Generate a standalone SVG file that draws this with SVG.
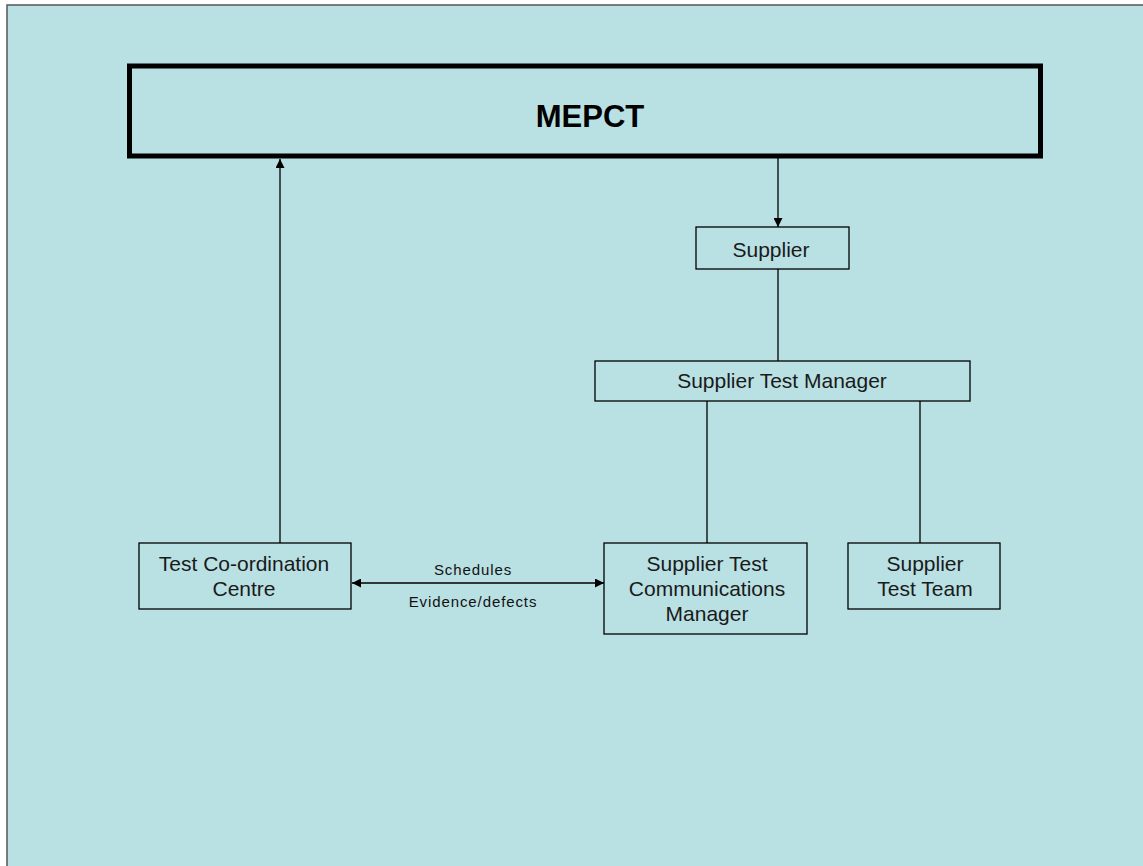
<svg xmlns="http://www.w3.org/2000/svg" width="1143" height="866" viewBox="0 0 1143 866">
<defs>
<style>
.box{fill:none;stroke:#000;stroke-width:1.3}
.t{font-family:"Liberation Sans",Arial,sans-serif;font-size:21px;fill:#1a1a1a;text-anchor:middle}
.s{font-family:"Liberation Sans",Arial,sans-serif;font-size:15px;letter-spacing:0.9px;fill:#111;text-anchor:middle}
.c{stroke:#000;stroke-width:1.3;fill:none}
</style>
<marker id="ah" viewBox="0 0 10 10" refX="10" refY="5" markerWidth="9" markerHeight="9" markerUnits="userSpaceOnUse" orient="auto-start-reverse"><path d="M0,0 L10,5 L0,10 z" fill="#000"/></marker>
</defs>
<rect x="0" y="0" width="1143" height="866" fill="#fff"/>
<rect x="7" y="5" width="1140" height="865" fill="#B9E0E3" stroke="#555" stroke-width="1.5"/>
<g id="connectors">
<line class="c" x1="280" y1="543" x2="280" y2="159" marker-end="url(#ah)"/>
<line class="c" x1="778" y1="158" x2="778" y2="227" marker-end="url(#ah)"/>
<line class="c" x1="778" y1="269" x2="778" y2="361"/>
<line class="c" x1="707" y1="401" x2="707" y2="543"/>
<line class="c" x1="920" y1="401" x2="920" y2="543"/>
<line class="c" x1="352" y1="583" x2="604" y2="583" marker-start="url(#ah)" marker-end="url(#ah)"/>
<text class="s" x="473" y="575">Schedules</text>
<text class="s" x="473" y="607">Evidence/defects</text>
</g>
<g id="mepct">
<rect x="129.5" y="66" width="911" height="90" fill="none" stroke="#000" stroke-width="5"/>
<text x="590" y="127" font-family="'Liberation Sans',Arial,sans-serif" font-size="31" font-weight="bold" text-anchor="middle" fill="#000">MEPCT</text>
</g>
<g id="supplier">
<rect class="box" x="696" y="227" width="153" height="42"/>
<text class="t" x="771" y="257">Supplier</text>
</g>
<g id="stm">
<rect class="box" x="595" y="361" width="375" height="40"/>
<text class="t" x="782" y="388">Supplier Test Manager</text>
</g>
<g id="tcc">
<rect class="box" x="139" y="543" width="212" height="66"/>
<text class="t" x="244" y="571">Test Co-ordination</text>
<text class="t" x="244" y="596">Centre</text>
</g>
<g id="stcm">
<rect class="box" x="604" y="543" width="203" height="91"/>
<text class="t" x="707" y="571">Supplier Test</text>
<text class="t" x="707" y="596">Communications</text>
<text class="t" x="707" y="621">Manager</text>
</g>
<g id="stt">
<rect class="box" x="848" y="543" width="152" height="66"/>
<text class="t" x="925" y="571">Supplier</text>
<text class="t" x="925" y="596">Test Team</text>
</g>
</svg>
